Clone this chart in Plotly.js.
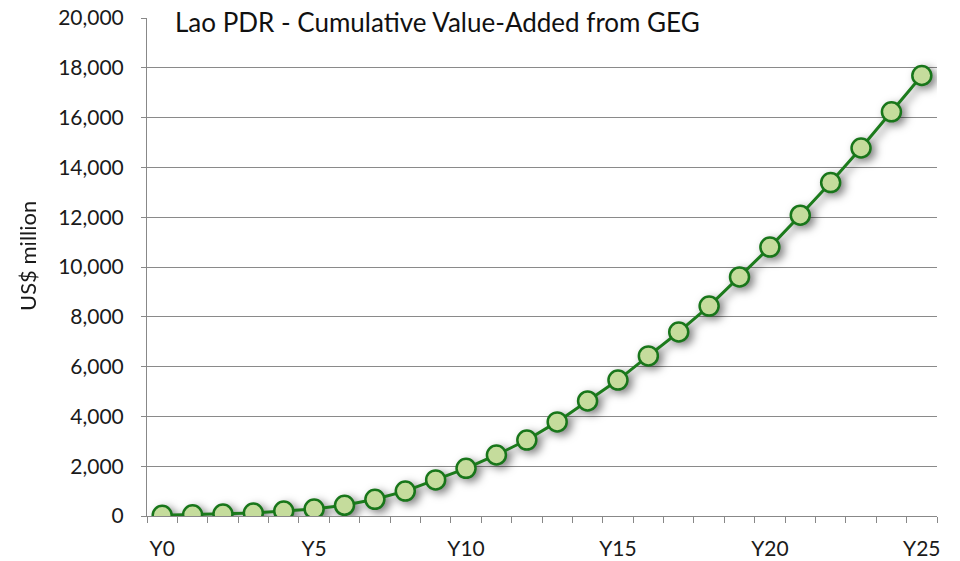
<!DOCTYPE html>
<html>
<head>
<meta charset="utf-8">
<script src="https://cdn.plot.ly/plotly-3.0.1.min.js"></script>
<style>
html,body{margin:0;padding:0;background:#fff;}
#chart{width:960px;height:561px;}
.scatterlayer .trace{filter:drop-shadow(4px 3px 4px rgba(0,0,0,0.5));}
</style>
</head>
<body>
<div id="chart"></div>
<script>
const years = [0,1,2,3,4,5,6,7,8,9,10,11,12,13,14,15,16,17,18,19,20,21,22,23,24,25];
const tickLabels = ["Y0","Y5","Y10","Y15","Y20","Y25"];
const tickYears = [0,5,10,15,20,25];
const values = [30,50,80,120,200,280,430,670,1000,1450,1915,2450,3050,3780,4620,5460,6430,7390,8430,9600,10800,12080,13390,14780,16230,17690];
const chartTitle = "Lao PDR - Cumulative Value-Added from GEG";
const yTitle = "US$ million";

const fontFam = "Lato, 'Open Sans', sans-serif";
const trace = {
  x: years, y: values, type: 'scatter', mode: 'lines+markers',
  line: {color: '#1c7b1c', width: 3},
  marker: {size: 19, color: '#c5dc9c', line: {color: '#18761a', width: 2.5}},
  hoverinfo: 'skip'
};
const layout = {
  width: 960, height: 561,
  margin: {l: 147, r: 23, t: 18, b: 45},
  paper_bgcolor: '#fff', plot_bgcolor: '#fff',
  showlegend: false,
  font: {family: fontFam, color: '#1a1a1a', size: 21},
  xaxis: {
    range: [-0.5, 25.5], tickvals: tickYears, ticktext: tickLabels,
    ticks: '', showgrid: false, zeroline: false,
    showline: true, linecolor: '#888', linewidth: 1,
    ticklabelstandoff: 14,
    minor: {ticks: 'outside', tick0: -0.5, dtick: 1, ticklen: 6, tickcolor: '#888', tickwidth: 1, showgrid: false},
    tickfont: {size: 21, family: fontFam, color: '#1a1a1a'}
  },
  yaxis: {
    range: [0, 20000], dtick: 2000, tickformat: ',d',
    showgrid: true, gridcolor: '#8a8a8a', gridwidth: 1,
    zeroline: false, showline: true, linecolor: '#888', linewidth: 1,
    ticks: 'outside', ticklen: 5, tickcolor: '#888',
    ticklabelstandoff: 13,
    tickfont: {size: 21, family: fontFam, color: '#1a1a1a'}
  },
  annotations: [{
    text: chartTitle, xref: 'paper', yref: 'paper',
    x: (168 - 147) / 790, y: 1 - 4 / 498, xanchor: 'left', yanchor: 'middle',
    showarrow: false, bgcolor: '#fff', borderpad: 6,
    font: {size: 26, family: fontFam, color: '#111'}
  }, {
    text: yTitle, xref: 'paper', yref: 'paper', textangle: -90,
    x: (28 - 147) / 790, y: (516 - 256) / 498, xanchor: 'center', yanchor: 'middle',
    showarrow: false,
    font: {size: 22, family: fontFam, color: '#1a1a1a'}
  }]
};
Plotly.newPlot('chart', [trace], layout, {staticPlot: true, displayModeBar: false});
</script>
</body>
</html>
